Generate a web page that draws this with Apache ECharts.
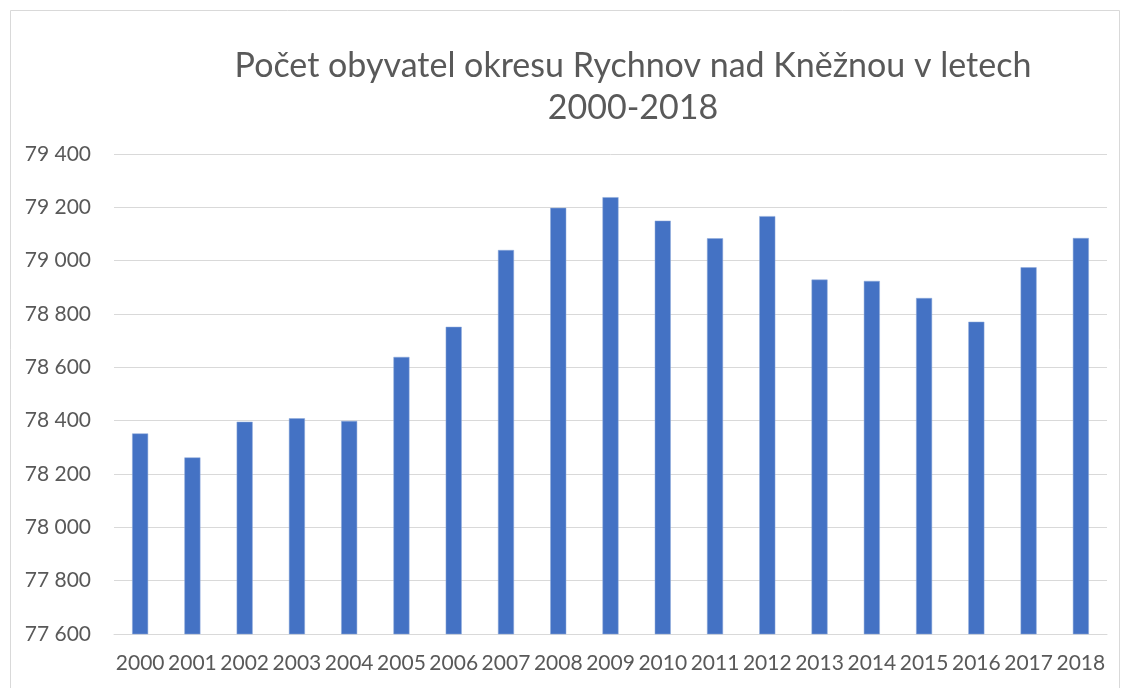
<!DOCTYPE html>
<html>
<head>
<meta charset="utf-8">
<script src="https://cdn.jsdelivr.net/npm/echarts@6/dist/echarts.min.js"></script>
<style>
  html, body { margin: 0; padding: 0; background: #fff; }
  #chart { width: 1123px; height: 688px; }
</style>
</head>
<body>
<div id="chart"></div>
<script>
const years = ['2000', '2001', '2002', '2003', '2004', '2005', '2006', '2007', '2008', '2009',
  '2010', '2011', '2012', '2013', '2014', '2015', '2016', '2017', '2018']
const population = [78352, 78262, 78396, 78409, 78399, 78639, 78752, 79040, 79198, 79238,
  79150, 79084, 79167, 78929, 78924, 78860, 78771, 78975, 79085]
const yMin = 77600
const yMax = 79400
const yStep = 200

const fontFamily = 'Lato, "Open Sans", sans-serif'
const textColor = '#595959'

const chart = echarts.init(document.getElementById('chart'))

const option = {
  animation: false,
  backgroundColor: '#fff',
  graphic: [
    {
      type: 'rect',
      left: 8,
      top: 8,
      shape: { width: 1109, height: 700 },
      style: { fill: 'none', stroke: '#d9d9d9', lineWidth: 1 },
      silent: true
    }
  ],
  title: {
    text: 'Počet obyvatel okresu Rychnov nad Kněžnou v letech\n2000-2018',
    left: 628,
    textAlign: 'center',
    top: 40,
    textStyle: {
      fontFamily: fontFamily,
      fontSize: 34,
      fontWeight: 'normal',
      color: textColor,
      lineHeight: 42
    }
  },
  grid: {
    left: 114,
    right: 16,
    top: 154,
    bottom: 54,
    containLabel: false
  },
  xAxis: {
    type: 'category',
    data: years,
    axisTick: { show: false },
    axisLine: { lineStyle: { color: '#d9d9d9', width: 1 } },
    axisLabel: {
      color: textColor,
      fontFamily: fontFamily,
      fontSize: 21,
      margin: 19,
      interval: 0
    }
  },
  yAxis: {
    type: 'value',
    min: yMin,
    max: yMax,
    interval: yStep,
    axisLine: { show: false },
    axisTick: { show: false },
    splitLine: { lineStyle: { color: '#d9d9d9', width: 1 } },
    axisLabel: {
      color: textColor,
      fontFamily: fontFamily,
      fontSize: 21,
      margin: 23,
      formatter: v => String(v).replace(/\B(?=(\d{3})+(?!\d))/g, ' ')
    }
  },
  series: [
    {
      type: 'bar',
      data: population,
      barWidth: 16,
      itemStyle: {
        color: '#4472C4',
        borderColor: '#8eaadb',
        borderWidth: 0.5
      }
    }
  ]
}

chart.setOption(option)
</script>
</body>
</html>
